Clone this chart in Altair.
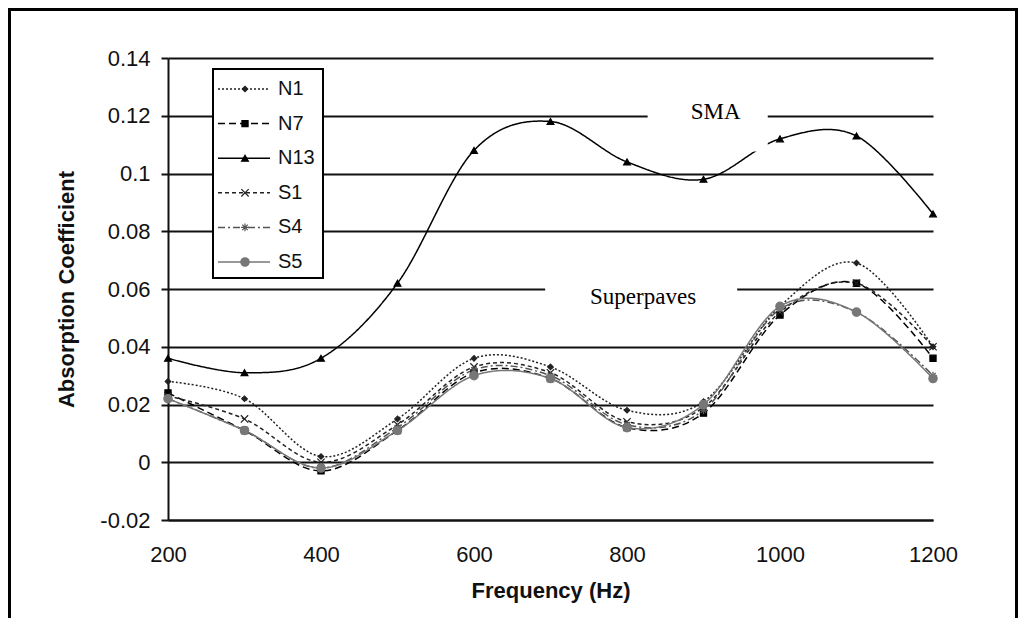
import altair as alt
import pandas as pd

# ---------------- data ----------------
freq = [200, 300, 400, 500, 600, 700, 800, 900, 1000, 1100, 1200]
series_names = ["N1", "N7", "N13", "S1", "S4", "S5"]
N1 = [0.028, 0.022, 0.002, 0.015, 0.036, 0.033, 0.018, 0.021, 0.054, 0.069, 0.040]
N7 = [0.024, 0.011, -0.003, 0.011, 0.031, 0.029, 0.012, 0.017, 0.051, 0.062, 0.036]
N13 = [0.036, 0.031, 0.036, 0.062, 0.108, 0.118, 0.104, 0.098, 0.112, 0.113, 0.086]
S1 = [0.023, 0.015, 0.000, 0.013, 0.033, 0.031, 0.014, 0.019, 0.052, 0.062, 0.040]
S4 = [0.022, 0.011, -0.002, 0.012, 0.032, 0.030, 0.013, 0.018, 0.053, 0.052, 0.030]
S5 = [0.022, 0.011, -0.002, 0.011, 0.030, 0.029, 0.012, 0.020, 0.054, 0.052, 0.029]
x_ticks = [200, 400, 600, 800, 1000, 1200]
y_ticks = [-0.02, 0.0, 0.02, 0.04, 0.06, 0.08, 0.1, 0.12, 0.14]

# annotations (label, centre x, centre y, box x0, x1, y0, y1)
ann_labels = ["SMA", "Superpaves"]
ann_x = [916, 821]
ann_y = [0.1214, 0.0572]
ann_x0 = [827, 693]
ann_x1 = [984, 944]
ann_y0 = [0.1076, 0.0524]
ann_y1 = [0.1290, 0.0628]

series_values = {"N1": N1, "N7": N7, "N13": N13, "S1": S1, "S4": S4, "S5": S5}
rows = []
for s in series_names:
    for f, v in zip(freq, series_values[s]):
        rows.append({"series": s, "freq": f, "value": v})
df = pd.DataFrame(rows)

ann_df = pd.DataFrame({"label": ann_labels, "x": ann_x, "y": ann_y,
                       "x0": ann_x0, "x1": ann_x1, "y0": ann_y0, "y1": ann_y1})

# ---------------- styles ----------------
XPATH = "M-1,-1L1,1M-1,1L1,-1"
STAR = "M0,-1L0,1M-1,0L1,0M-0.7,-0.7L0.7,0.7M-0.7,0.7L0.7,-0.7"
color_scale = alt.Scale(domain=series_names,
                        range=["#222222", "#000000", "#000000", "#222222", "#555555", "#777777"])
dash_scale = alt.Scale(domain=series_names,
                       range=[[2, 2], [7, 4], [1, 0], [4, 3], [7, 3, 2, 3], [1, 0]])
shape_scale = alt.Scale(domain=series_names,
                        range=["diamond", "square", "triangle-up", XPATH, STAR, "circle"])
size_scale = alt.Scale(domain=series_names, range=[30, 70, 45, 45, 40, 14])
width_scale = alt.Scale(domain=series_names, range=[1.5, 1.5, 1.5, 1.5, 1.5, 2.2])

FONT = "Liberation Sans"
SERIF = "Liberation Serif"

x_enc = alt.X("freq:Q",
              scale=alt.Scale(domain=[200, 1200], nice=False, zero=False),
              axis=alt.Axis(values=x_ticks, title="Frequency (Hz)", grid=False, format="d",
                            ticks=False, domain=True, domainColor="#111", domainWidth=2,
                            labelFontSize=22, labelPadding=24, titleFontSize=22,
                            titleFontWeight="bold", titlePadding=15, labelFlush=False))
y_enc = alt.Y("value:Q",
              scale=alt.Scale(domain=[-0.02, 0.14], nice=False, zero=False),
              axis=alt.Axis(values=y_ticks, title="Absorption Coefficient", grid=True,
                            gridColor="#111", gridWidth=2, domain=True, domainColor="#111",
                            domainWidth=2, ticks=True, tickSize=7, tickColor="#111",
                            tickWidth=2, labelFontSize=22, labelPadding=11,
                            labelExpr="datum.value < 0 ? '-' + format(-datum.value, '~g') : format(datum.value, '~g')",
                            titleFontSize=22, titleFontWeight="bold", titlePadding=21))

col = alt.Color("series:N", scale=color_scale, legend=None)
dash = alt.StrokeDash("series:N", scale=dash_scale, legend=None)
sw = alt.StrokeWidth("series:N", scale=width_scale, legend=None)
shp = alt.Shape("series:N", scale=shape_scale, legend=None)
sz = alt.Size("series:N", scale=size_scale, legend=None)
fil = alt.Fill("series:N", scale=color_scale, legend=None)
stk = alt.Stroke("series:N", scale=color_scale, legend=None)

base = alt.Chart(df)
lines = base.mark_line(interpolate="cardinal").encode(
    x=x_enc, y=y_enc, color=col, strokeDash=dash, strokeWidth=sw)
points = base.mark_point(filled=True, opacity=1, strokeWidth=1.2).encode(
    x="freq:Q", y="value:Q", shape=shp, size=sz, fill=fil, stroke=stk)

ann_box = alt.Chart(ann_df).mark_rect(fill="white", stroke=None).encode(
    x="x0:Q", x2="x1:Q", y="y0:Q", y2="y1:Q")
ann_text = alt.Chart(ann_df).mark_text(font=SERIF, fontSize=23, color="#000",
                                       baseline="middle", align="center").encode(
    x="x:Q", y="y:Q", text="label:N")

one = pd.DataFrame({"a": [0]})
frame = alt.Chart(one).mark_rect(fill=None, stroke="#000", strokeWidth=3).encode(
    x=alt.value(-158.5), x2=alt.value(848.5), y=alt.value(-48.5), y2=alt.value(600))

legend_box = alt.Chart(one).mark_rect(fill="white", stroke="#000", strokeWidth=2).encode(
    x=alt.value(45), x2=alt.value(155), y=alt.value(11), y2=alt.value(220))

legend_layers = []
for i, s in enumerate(series_names):
    ly = 31 + i * 34.6
    d = pd.DataFrame({"series": [s]})
    legend_layers.append(alt.Chart(d).mark_rule().encode(
        x=alt.value(50), x2=alt.value(102), y=alt.value(ly),
        color=col, strokeDash=dash, strokeWidth=sw))
    legend_layers.append(alt.Chart(d).mark_point(filled=True, opacity=1, strokeWidth=1.2).encode(
        x=alt.value(77), y=alt.value(ly), shape=shp, size=sz, fill=fil, stroke=stk))
    legend_layers.append(alt.Chart(d).mark_text(font=FONT, fontSize=20, align="left",
                                                baseline="middle", color="#111").encode(
        x=alt.value(110), y=alt.value(ly), text="series:N"))

chart = alt.layer(lines, points, ann_box, ann_text, frame, legend_box, *legend_layers).properties(
    width=765, height=462,
    padding={"left": 160, "top": 50, "right": 85, "bottom": 98},
    autosize=alt.AutoSizeParams(type="none"),
).configure_view(strokeWidth=0).configure_axis(
    labelFont=FONT, titleFont=FONT, labelColor="#111", titleColor="#111")

chart.save("out.html", embed_options={"renderer": "svg", "actions": False})
